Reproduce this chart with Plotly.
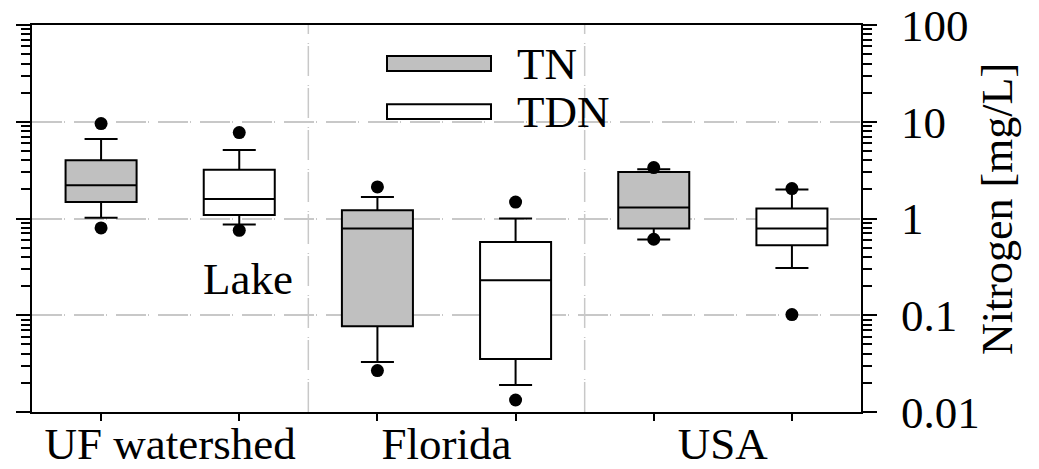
import plotly.graph_objects as go

# ---- data ----
groups = ["UF watershed", "Florida", "USA"]
group_centers = [1.5, 3.5, 5.5]
pos_tn = [1, 3, 5]
pos_tdn = [2, 4, 6]

tn_low_dot = [0.80, 0.0268, 0.61]
tn_low_whisk = [1.02, 0.0329, 0.605]
tn_q1 = [1.48, 0.0769, 0.787]
tn_median = [2.2, 0.787, 1.30]
tn_q3 = [4.0, 1.22, 3.03]
tn_up_whisk = [6.63, 1.67, 3.23]
tn_up_dot = [9.57, 2.12, 3.36]

tdn_low_dot = [0.755, 0.0133, 0.1016]
tdn_low_whisk = [0.865, 0.019, 0.308]
tdn_q1 = [1.09, 0.0353, 0.528]
tdn_median = [1.59, 0.23, 0.787]
tdn_q3 = [3.2, 0.571, 1.27]
tdn_up_whisk = [5.1, 1.0, 1.99]
tdn_up_dot = [7.72, 1.48, 2.04]

y_tickvals = [0.01, 0.1, 1, 10, 100]
y_ticktext = ["0.01", "0.1", "1", "10", "100"]
y_minor = [m * 10 ** e for e in (-2, -1, 0, 1) for m in range(2, 10)]

FONT = "Liberation Serif"
GRID = "#c8c8c8"
DASH = "30px,2px,1px,9px"

fig = go.Figure()

fig.add_trace(go.Box(
    name="TN", x=pos_tn, q1=tn_q1, median=tn_median, q3=tn_q3,
    lowerfence=tn_low_whisk, upperfence=tn_up_whisk,
    fillcolor="#c0c0c0", line=dict(color="black", width=2),
    width=0.514, whiskerwidth=0.465, boxpoints=False, showlegend=False,
))
fig.add_trace(go.Box(
    name="TDN", x=pos_tdn, q1=tdn_q1, median=tdn_median, q3=tdn_q3,
    lowerfence=tdn_low_whisk, upperfence=tdn_up_whisk,
    fillcolor="white", line=dict(color="black", width=2),
    width=0.514, whiskerwidth=0.465, boxpoints=False, showlegend=False,
))

dot_x = pos_tn + pos_tn + pos_tdn + pos_tdn
dot_y = tn_low_dot + tn_up_dot + tdn_low_dot + tdn_up_dot
fig.add_trace(go.Scatter(
    x=dot_x, y=dot_y, mode="markers",
    marker=dict(color="black", size=13), showlegend=False,
))

# group separators
for xs in (2.5, 4.5):
    fig.add_shape(type="line", xref="x", yref="paper", x0=xs, x1=xs, y0=0, y1=1,
                  line=dict(color=GRID, width=1.5, dash=DASH), layer="below")

# custom legend
def px2paper_x(px):
    return (px - 32) / 829

def px2paper_y(py):
    return (412 - py) / 387

legend_items = [("TN", "#c0c0c0", 56, 71), ("TDN", "white", 104.3, 119)]
for label, fill, top, bot in legend_items:
    fig.add_shape(type="rect", xref="paper", yref="paper",
                  x0=px2paper_x(387), x1=px2paper_x(491),
                  y0=px2paper_y(bot), y1=px2paper_y(top),
                  fillcolor=fill, line=dict(color="black", width=2))
    fig.add_annotation(text=label, xref="paper", yref="paper",
                       x=px2paper_x(515), y=px2paper_y((top + bot) / 2),
                       xanchor="left", yanchor="middle", showarrow=False,
                       font=dict(family=FONT, size=45, color="black"))

fig.add_annotation(text="Lake", xref="paper", yref="paper",
                   x=px2paper_x(248), y=px2paper_y(279.3),
                   xanchor="center", yanchor="middle", showarrow=False,
                   font=dict(family=FONT, size=45, color="black"))

fig.add_annotation(text="Nitrogen [mg/L]", xref="paper", yref="paper",
                   x=px2paper_x(997), y=px2paper_y(209), textangle=-90,
                   xanchor="center", yanchor="middle", showarrow=False,
                   font=dict(family=FONT, size=44, color="black"))

fig.update_layout(
    width=1039, height=469,
    margin=dict(l=32, r=178, t=25, b=57, autoexpand=False),
    paper_bgcolor="white", plot_bgcolor="white",
    boxmode="overlay", showlegend=False,
    font=dict(family=FONT, size=45, color="black"),
    xaxis=dict(
        range=[0.5, 6.5], tickvals=group_centers, ticktext=groups,
        ticks="", showgrid=False, zeroline=False, automargin=False,
        showline=True, linecolor="black", linewidth=2, mirror=True,
        ticklabelstandoff=-9,
        tickfont=dict(family=FONT, size=45, color="black"),
        minor=dict(tickvals=pos_tn + pos_tdn, ticks="outside", ticklen=7,
                   tickwidth=1.5, tickcolor="black", showgrid=False),
    ),
    yaxis=dict(
        type="log", range=[-2, 2], side="right", automargin=False,
        tickvals=y_tickvals, ticktext=y_ticktext,
        ticks="outside", ticklen=14, tickwidth=1.5, tickcolor="black",
        mirror="ticks", showline=True, linecolor="black", linewidth=2,
        showgrid=True, gridcolor=GRID, gridwidth=1.5, griddash=DASH,
        zeroline=False, ticklabelstandoff=15,
        tickfont=dict(family=FONT, size=45, color="black"),
        minor=dict(tickvals=y_minor, ticks="outside", ticklen=9,
                   tickwidth=1.5, tickcolor="black", showgrid=False),
    ),
)

fig.write_html("out.html")
